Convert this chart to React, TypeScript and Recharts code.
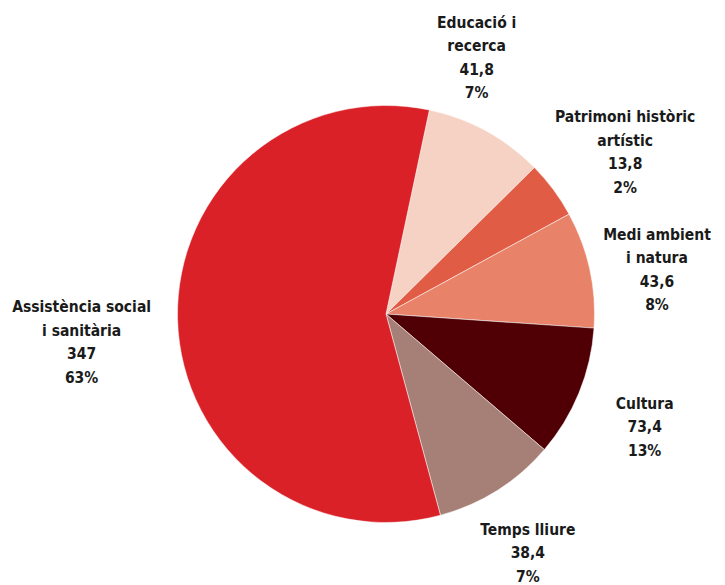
import { PieChart, Pie, Cell } from "recharts";

// slice order, clockwise from the top
const sectors = [
  "Educació i recerca",
  "Patrimoni històric artístic",
  "Medi ambient i natura",
  "Cultura",
  "Temps lliure",
  "Assistència social i sanitària",
];

const labelLines = [
  ["Educació i", "recerca"],
  ["Patrimoni històric", "artístic"],
  ["Medi ambient", "i natura"],
  ["Cultura"],
  ["Temps lliure"],
  ["Assistència social", "i sanitària"],
];

const amounts = [41.8, 13.8, 43.6, 73.4, 38.4, 347];
const percents = [7, 2, 8, 13, 7, 63];

// slice sizes as drawn in the picture (degrees of arc)
const arcShare = [33.4, 16.0, 32.5, 36.7, 34.3, 207.2];

const colors = ["#f5d2c3", "#e05c45", "#e8836a", "#500005", "#a67f76", "#da2128"];

const data = sectors.map((name, i) => ({ name, share: arcShare[i] }));

const RADIAN = Math.PI / 180;
const FONT = "'DejaVu Sans Condensed', 'Liberation Sans Narrow', sans-serif";

// small hand nudges so labels sit where the original put them
const nudge: Record<number, [number, number]> = {
  0: [-44, -10],
  1: [14, 6],
  2: [-3, 16],
  3: [-1, 7],
  4: [-8, 2],
  5: [-24, 21],
};

const renderLabel = (props: any) => {
  const { cx, cy, midAngle, outerRadius, index } = props;
  const r = outerRadius + 72;
  const [nx, ny] = nudge[index] || [0, 0];
  const x = cx + r * Math.cos(-midAngle * RADIAN) + nx;
  const y = cy + r * Math.sin(-midAngle * RADIAN) + ny;
  const lines = [
    ...labelLines[index],
    amounts[index].toString().replace(".", ","),
    percents[index] + "%",
  ];
  const lh = 23.5;
  const top = y - ((lines.length - 1) / 2) * lh;
  return (
    <text
      key={"lbl" + index}
      x={x}
      y={top}
      textAnchor="middle"
      dominantBaseline="central"
      fill="#1a1a1a"
      fontFamily={FONT}
      fontWeight="bold"
      fontSize={15.5}
    >
      {lines.map((l, i) => (
        <tspan key={i} x={x} y={top + i * lh}>
          {l}
        </tspan>
      ))}
    </text>
  );
};

export default function App() {
  return (
    <PieChart
      width={717}
      height={577}
      margin={{ top: 0, right: 0, bottom: 0, left: 0 }}
      style={{ overflow: "visible" }}
    >
      <Pie
        data={data}
        dataKey="share"
        nameKey="name"
        cx={378}
        cy={306}
        outerRadius={208.5}
        startAngle={78}
        endAngle={-282}
        stroke="#ffffff"
        strokeWidth={0.5}
        label={renderLabel}
        labelLine={false}
        isAnimationActive={false}
      >
        {data.map((d, i) => (
          <Cell key={d.name} fill={colors[i]} />
        ))}
      </Pie>
    </PieChart>
  );
}
